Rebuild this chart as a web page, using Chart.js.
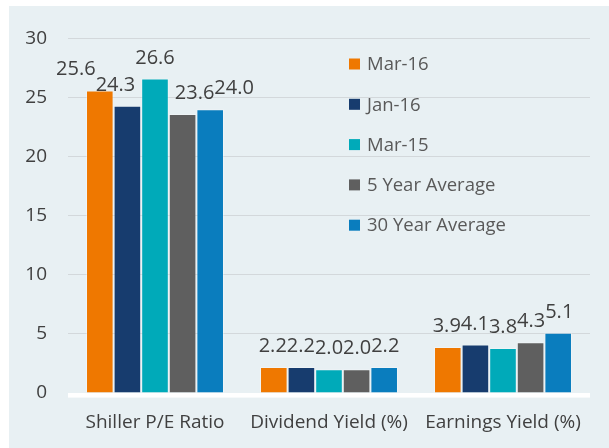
<!DOCTYPE html>
<html>
<head>
<meta charset="utf-8">
<script src="https://cdn.jsdelivr.net/npm/chart.js@4.4.0/dist/chart.umd.min.js"></script>
<style>
html, body { margin: 0; padding: 0; background: #ffffff; }
#wrap { position: absolute; left: 9px; top: 6px; width: 600px; height: 442px; background: #e8f0f3; }
</style>
</head>
<body>
<div id="wrap"><canvas id="chart" width="600" height="442"></canvas></div>
<script>
// data
const categories = ['Shiller P/E Ratio', 'Dividend Yield (%)', 'Earnings Yield (%)'];
const seriesNames = ['Mar-16', 'Jan-16', 'Mar-15', '5 Year Average', '30 Year Average'];
const mar16 = [25.6, 2.2, 3.9];
const jan16 = [24.3, 2.2, 4.1];
const mar15 = [26.6, 2.0, 3.8];
const avg5yr = [23.6, 2.0, 4.3];
const avg30yr = [24.0, 2.2, 5.1];
const yTicks = [0, 5, 10, 15, 20, 25, 30];

const seriesValues = [mar16, jan16, mar15, avg5yr, avg30yr];
const seriesColors = ['#ef7800', '#173c6e', '#00aab9', '#5f5f5f', '#0a7dbe'];

const FONT = '"Open Sans", "Noto Sans", sans-serif';

// white axis band under the bars
const baseLine = {
    id: 'baseLine',
    beforeDatasetsDraw(chart) {
        const a = chart.chartArea;
        const ctx = chart.ctx;
        ctx.save();
        ctx.fillStyle = '#ffffff';
        ctx.fillRect(a.left, a.bottom, a.right - a.left, 4.6);
        ctx.restore();
    }
};

// value labels, laid side by side over each group so they don't overlap
const valueLabels = {
    id: 'valueLabels',
    afterDatasetsDraw(chart) {
        const ctx = chart.ctx;
        ctx.save();
        ctx.font = '20px ' + FONT;
        ctx.fillStyle = '#404040';
        ctx.textAlign = 'left';
        ctx.textBaseline = 'alphabetic';
        categories.forEach((c, i) => {
            const items = chart.data.datasets.map((ds, d) => {
                const bar = chart.getDatasetMeta(d).data[i];
                const text = ds.data[i].toFixed(1);
                return { bar, text, w: ctx.measureText(text).width };
            });
            const total = items.reduce((s, it) => s + it.w, 0);
            const center = items.reduce((s, it) => s + it.bar.x, 0) / items.length;
            let x = center - total / 2;
            items.forEach(it => {
                ctx.fillText(it.text, x, it.bar.y - 15);
                x += it.w;
            });
        });
        ctx.restore();
    }
};

// legend drawn inside the plot area, right side
const innerLegend = {
    id: 'innerLegend',
    afterDraw(chart) {
        const ctx = chart.ctx;
        ctx.save();
        ctx.font = '18.5px ' + FONT;
        ctx.textBaseline = 'middle';
        ctx.textAlign = 'left';
        chart.data.datasets.forEach((ds, d) => {
            const y = 58 + d * 40.3;
            ctx.fillStyle = ds.backgroundColor;
            ctx.fillRect(340, y - 5.5, 11, 11);
            ctx.fillStyle = '#595959';
            ctx.fillText(ds.label, 358, y + 1);
        });
        ctx.restore();
    }
};

const ctx = document.getElementById('chart').getContext('2d');
new Chart(ctx, {
    type: 'bar',
    data: {
        labels: categories,
        datasets: seriesNames.map((name, k) => ({
            label: name,
            data: seriesValues[k],
            backgroundColor: seriesColors[k],
            borderColor: 'rgba(255,255,255,0.3)',
            borderWidth: 1,
            barPercentage: 1,
            categoryPercentage: 0.793
        }))
    },
    options: {
        responsive: false,
        animation: false,
        layout: { padding: { top: 29, right: 19, left: 0, bottom: 0 } },
        plugins: {
            legend: { display: false },
            tooltip: { enabled: false }
        },
        scales: {
            x: {
                grid: { display: false },
                border: { display: false },
                ticks: { color: '#404040', font: { family: FONT, size: 19 }, padding: 10 },
                afterFit(scale) { scale.height = 55; }
            },
            y: {
                min: 0,
                max: 30,
                afterBuildTicks(scale) { scale.ticks = yTicks.map(v => ({ value: v })); },
                grid: {
                    drawTicks: false,
                    color: c => (c.tick && c.tick.value === 0 ? 'rgba(0,0,0,0)' : '#d3d8db'),
                    lineWidth: 1
                },
                border: { display: false },
                ticks: { color: '#404040', font: { family: FONT, size: 19 }, padding: 21 },
                afterFit(scale) { scale.width = 59; }
            }
        }
    },
    plugins: [baseLine, valueLabels, innerLegend]
});
</script>
</body>
</html>
